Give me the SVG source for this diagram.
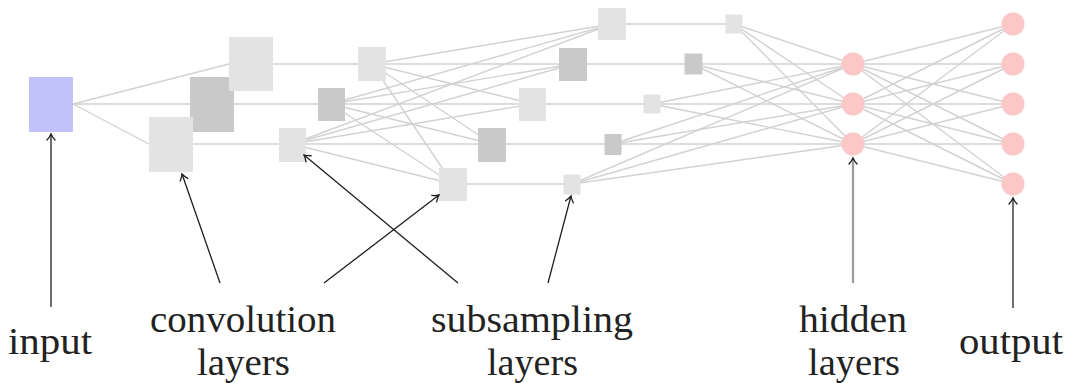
<svg xmlns="http://www.w3.org/2000/svg" width="1071" height="383" viewBox="0 0 1071 383">
  <style>
    .link { stroke: #d2d2d2; stroke-width: 1.4; fill: none; }
    .light { fill: #e3e3e3; }
    .dark { fill: #c9c9c9; }
    .in { fill: #c2c2fb; }
    .neuron { fill: #fbc7c7; }
    .note { stroke: #1e1e1e; stroke-width: 1.3; fill: none; marker-end: url(#tip); }
    .note-gray { stroke: #9a9a9a; stroke-width: 2.2; fill: none; marker-end: url(#tip); }
    .label { font-family: "Liberation Serif", "Times New Roman", serif; font-size: 37px; fill: #222; text-anchor: middle; }
  </style>
  <defs>
    <marker id="tip" viewBox="-7 -5 9 10" refX="0" refY="0" markerWidth="9" markerHeight="10" markerUnits="userSpaceOnUse" orient="auto">
      <path d="M -6,-4 C -3.5,-1.8 -1.2,-0.5 0,0 C -1.2,0.5 -3.5,1.8 -6,4" stroke="#1e1e1e" stroke-width="1.3" fill="none" stroke-linecap="round"/>
    </marker>
  </defs>
  <rect width="1071" height="383" fill="#ffffff"/>

  <g id="connectors">
    <!-- input to first convolution -->
    <line class="link" x1="73" y1="104" x2="229" y2="64"/>
    <line class="link" x1="73" y1="104" x2="190" y2="104"/>
    <line class="link" x1="73" y1="104" x2="149" y2="144"/>
    <!-- convolution 1 to subsampling 1 -->
    <line class="link" x1="251" y1="64" x2="372" y2="64"/>
    <line class="link" x1="212" y1="104" x2="331" y2="104"/>
    <line class="link" x1="171" y1="144" x2="292" y2="144"/>
    <!-- subsampling 1 to convolution 2 (full) -->
    <line class="link" x1="372" y1="64" x2="612" y2="24"/>
    <line class="link" x1="372" y1="64" x2="573" y2="64"/>
    <line class="link" x1="372" y1="64" x2="533" y2="104"/>
    <line class="link" x1="372" y1="64" x2="492" y2="144"/>
    <line class="link" x1="372" y1="64" x2="453" y2="184"/>
    <line class="link" x1="331" y1="104" x2="612" y2="24"/>
    <line class="link" x1="331" y1="104" x2="573" y2="64"/>
    <line class="link" x1="331" y1="104" x2="533" y2="104"/>
    <line class="link" x1="331" y1="104" x2="492" y2="144"/>
    <line class="link" x1="331" y1="104" x2="453" y2="184"/>
    <line class="link" x1="292" y1="144" x2="612" y2="24"/>
    <line class="link" x1="292" y1="144" x2="573" y2="64"/>
    <line class="link" x1="292" y1="144" x2="533" y2="104"/>
    <line class="link" x1="292" y1="144" x2="492" y2="144"/>
    <line class="link" x1="292" y1="144" x2="453" y2="184"/>
    <!-- convolution 2 to subsampling 2 -->
    <line class="link" x1="612" y1="24" x2="734" y2="24"/>
    <line class="link" x1="573" y1="64" x2="693" y2="64"/>
    <line class="link" x1="533" y1="104" x2="652" y2="104"/>
    <line class="link" x1="492" y1="144" x2="613" y2="144"/>
    <line class="link" x1="453" y1="184" x2="572" y2="184"/>
    <!-- subsampling 2 to hidden (full) -->
    <line class="link" x1="734" y1="24" x2="853" y2="64"/>
    <line class="link" x1="734" y1="24" x2="853" y2="104"/>
    <line class="link" x1="734" y1="24" x2="853" y2="144"/>
    <line class="link" x1="693" y1="64" x2="853" y2="64"/>
    <line class="link" x1="693" y1="64" x2="853" y2="104"/>
    <line class="link" x1="693" y1="64" x2="853" y2="144"/>
    <line class="link" x1="652" y1="104" x2="853" y2="64"/>
    <line class="link" x1="652" y1="104" x2="853" y2="104"/>
    <line class="link" x1="652" y1="104" x2="853" y2="144"/>
    <line class="link" x1="613" y1="144" x2="853" y2="64"/>
    <line class="link" x1="613" y1="144" x2="853" y2="104"/>
    <line class="link" x1="613" y1="144" x2="853" y2="144"/>
    <line class="link" x1="572" y1="184" x2="853" y2="64"/>
    <line class="link" x1="572" y1="184" x2="853" y2="104"/>
    <line class="link" x1="572" y1="184" x2="853" y2="144"/>
    <!-- hidden to output (full) -->
    <line class="link" x1="853" y1="64" x2="1013" y2="24"/>
    <line class="link" x1="853" y1="64" x2="1013" y2="64"/>
    <line class="link" x1="853" y1="64" x2="1013" y2="104"/>
    <line class="link" x1="853" y1="64" x2="1013" y2="144"/>
    <line class="link" x1="853" y1="64" x2="1013" y2="184"/>
    <line class="link" x1="853" y1="104" x2="1013" y2="24"/>
    <line class="link" x1="853" y1="104" x2="1013" y2="64"/>
    <line class="link" x1="853" y1="104" x2="1013" y2="104"/>
    <line class="link" x1="853" y1="104" x2="1013" y2="144"/>
    <line class="link" x1="853" y1="104" x2="1013" y2="184"/>
    <line class="link" x1="853" y1="144" x2="1013" y2="24"/>
    <line class="link" x1="853" y1="144" x2="1013" y2="64"/>
    <line class="link" x1="853" y1="144" x2="1013" y2="104"/>
    <line class="link" x1="853" y1="144" x2="1013" y2="144"/>
    <line class="link" x1="853" y1="144" x2="1013" y2="184"/>
  </g>

  <!-- input -->
  <g id="input"><rect class="in" x="29" y="77" width="44" height="55"/></g>

  <!-- first convolution layer -->
  <g id="conv1-b"><rect class="dark" x="190" y="77" width="44" height="55"/></g>
  <g id="conv1-a"><rect class="light" x="229" y="37" width="44" height="54"/></g>
  <g id="conv1-c"><rect class="light" x="149" y="117" width="44" height="55"/></g>

  <!-- first subsampling layer -->
  <g id="sub1-a"><rect class="light" x="358" y="47" width="28" height="34"/></g>
  <g id="sub1-b"><rect class="dark" x="318" y="88" width="27" height="33"/></g>
  <g id="sub1-c"><rect class="light" x="279" y="128" width="27" height="34"/></g>

  <!-- second convolution layer -->
  <g id="conv2-a"><rect class="light" x="598" y="8" width="28" height="32"/></g>
  <g id="conv2-b"><rect class="dark" x="559" y="48" width="28" height="33"/></g>
  <g id="conv2-c"><rect class="light" x="519" y="88" width="27" height="33"/></g>
  <g id="conv2-d"><rect class="dark" x="478" y="128" width="28" height="34"/></g>
  <g id="conv2-e"><rect class="light" x="439" y="168" width="28" height="33"/></g>

  <!-- second subsampling layer -->
  <g id="sub2-a"><rect class="light" x="725.5" y="14.5" width="17" height="19"/></g>
  <g id="sub2-b"><rect class="dark" x="684.5" y="53.5" width="18" height="21"/></g>
  <g id="sub2-c"><rect class="light" x="643.5" y="94.5" width="17" height="19"/></g>
  <g id="sub2-d"><rect class="dark" x="604.5" y="134" width="17" height="21"/></g>
  <g id="sub2-e"><rect class="light" x="563.5" y="174.5" width="17" height="20"/></g>

  <!-- hidden layer -->
  <g id="hidden-1"><circle class="neuron" cx="853" cy="64" r="11.5"/></g>
  <g id="hidden-2"><circle class="neuron" cx="853" cy="104" r="11.5"/></g>
  <g id="hidden-3"><circle class="neuron" cx="853" cy="144" r="11.5"/></g>

  <!-- output layer -->
  <g id="output-1"><circle class="neuron" cx="1013" cy="24" r="11.5"/></g>
  <g id="output-2"><circle class="neuron" cx="1013" cy="64" r="11.5"/></g>
  <g id="output-3"><circle class="neuron" cx="1013" cy="104" r="11.5"/></g>
  <g id="output-4"><circle class="neuron" cx="1013" cy="144" r="11.5"/></g>
  <g id="output-5"><circle class="neuron" cx="1013" cy="184" r="11.5"/></g>

  <!-- callout arrows -->
  <g id="callouts">
    <line class="note" x1="51" y1="307" x2="51" y2="134"/>
    <line class="note" x1="220" y1="283" x2="182" y2="174"/>
    <line class="note" x1="324" y1="283" x2="439" y2="195"/>
    <line class="note" x1="458" y1="283" x2="304" y2="155"/>
    <line class="note" x1="548" y1="283" x2="571" y2="196"/>
    <line class="note-gray" x1="853" y1="283" x2="853" y2="158"/>
    <line class="note" x1="1013" y1="308" x2="1013" y2="198"/>
  </g>

  <!-- labels -->
  <g id="labels">
    <text class="label" x="50" y="354" textLength="84" lengthAdjust="spacingAndGlyphs">input</text>
    <text class="label" x="243" y="332" textLength="186" lengthAdjust="spacingAndGlyphs">convolution</text>
    <text class="label" x="243.5" y="375" textLength="93" lengthAdjust="spacingAndGlyphs">layers</text>
    <text class="label" x="532" y="332" textLength="202" lengthAdjust="spacingAndGlyphs">subsampling</text>
    <text class="label" x="532.5" y="375" textLength="91" lengthAdjust="spacingAndGlyphs">layers</text>
    <text class="label" x="853" y="332" textLength="108" lengthAdjust="spacingAndGlyphs">hidden</text>
    <text class="label" x="854" y="375" textLength="92" lengthAdjust="spacingAndGlyphs">layers</text>
    <text class="label" x="1011" y="354" textLength="104" lengthAdjust="spacingAndGlyphs">output</text>
  </g>
</svg>
